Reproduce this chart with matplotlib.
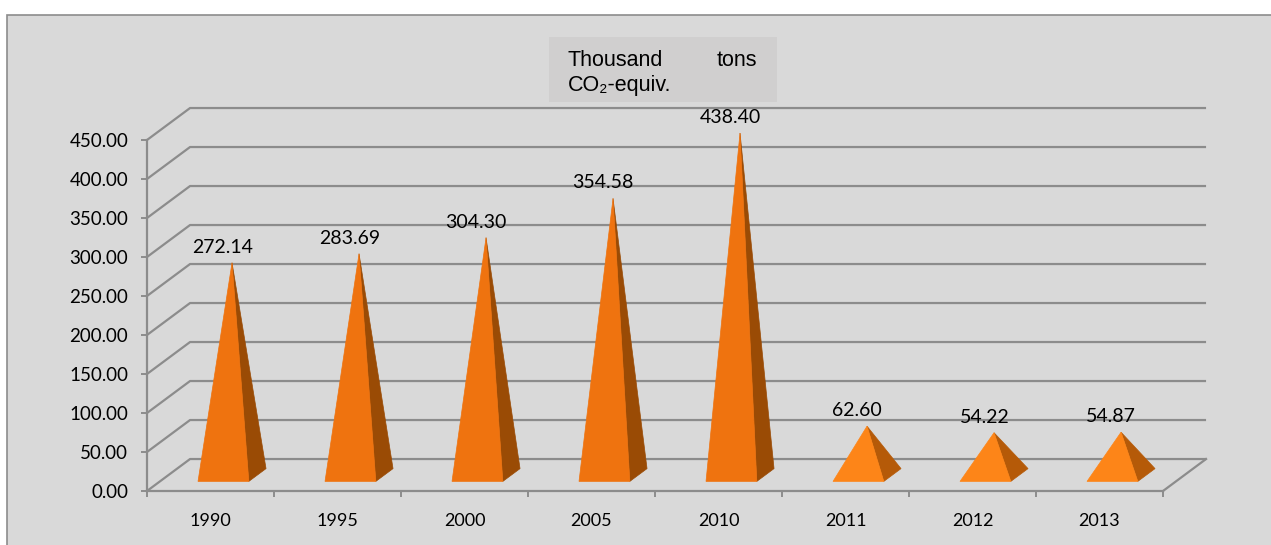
import matplotlib.pyplot as plt
from matplotlib.patches import Polygon, Rectangle

# Emissions, thousand tons CO2-equivalent
years = ["1990", "1995", "2000", "2005", "2010", "2011", "2012", "2013"]
emissions = [272.14, 283.69, 304.30, 354.58, 438.40, 62.60, 54.22, 54.87]
y_ticks = [0, 50, 100, 150, 200, 250, 300, 350, 400, 450]

W, H = 1271, 545
GRID = "#8c8c8c"
BG = "#d9d9d9"

# oblique depth vector for the fake 3D box (category units, value units)
DEPTH_X = 0.339
DEPTH_Y = 41.0


def proj(x, y, d):
    return (x + d * DEPTH_X, y + d * DEPTH_Y)


plt.rcParams["font.family"] = ["Lato", "DejaVu Sans"]

fig = plt.figure(figsize=(W / 100, H / 100), dpi=100)
fig.patch.set_facecolor("white")
fig.add_artist(Rectangle((7 / W, -0.01), 1.0, 1 - 15 / H + 0.01,
                         transform=fig.transFigure, facecolor=BG,
                         edgecolor=GRID, lw=1.2, zorder=0))

ax = fig.add_axes([147 / W, 54 / H, 1016 / W, 351 / H])
ax.set_xlim(0, len(years))
ax.set_ylim(0, 450)
ax.patch.set_visible(False)
for s in ("top", "right"):
    ax.spines[s].set_visible(False)
for s in ("left", "bottom"):
    ax.spines[s].set_color(GRID)
    ax.spines[s].set_linewidth(1.6)

ax.set_yticks(y_ticks)
ax.set_yticklabels([f"{v:.2f}" for v in y_ticks])
ax.set_xticks(range(len(years) + 1))
ax.set_xticklabels([])
ax.set_xticks([i + 0.5 for i in range(len(years))], minor=True)
ax.set_xticklabels(years, minor=True)
ax.tick_params(axis="both", which="major", length=4.5, width=1.4, color=GRID,
               labelsize=13.5, labelcolor="black")
ax.tick_params(axis="y", pad=9)
ax.tick_params(axis="x", which="minor", length=0, pad=16, labelsize=13)

# back wall gridlines + side diagonals
for v in y_ticks:
    xb, yb = proj(0, v, 1)
    xe, _ = proj(len(years), v, 1)
    ax.plot([0, xb, xe], [v, yb, yb], color=GRID, lw=1.6, clip_on=False,
            zorder=1, solid_capstyle="butt")
fx, fy = proj(len(years), 0, 1)
ax.plot([len(years), fx], [0, fy], color=GRID, lw=1.6, clip_on=False, zorder=1)

# pyramids: front and right faces
half = 0.2
for i, v in enumerate(emissions):
    c = i + 0.5
    apex = proj(c, v, 0.5)
    fl = proj(c - half, 0, 0.3)
    fr = proj(c + half, 0, 0.3)
    br = proj(c + half, 0, 0.7)
    if v > 100:
        front, side = "#ef730f", "#9a4b05"
    else:
        front, side = "#fd8518", "#b55a08"
    ax.add_patch(Polygon([fr, br, apex], closed=True, facecolor=side,
                         edgecolor=side, lw=0.5, clip_on=False, zorder=3))
    ax.add_patch(Polygon([fl, fr, apex], closed=True, facecolor=front,
                         edgecolor=front, lw=0.5, clip_on=False, zorder=4))
    ax.annotate(f"{v:.2f}", xy=apex, xytext=(-7, 5), textcoords="offset points",
                ha="center", va="bottom", fontsize=14, annotation_clip=False,
                zorder=5)

# unit box
fig.add_artist(Rectangle((549 / W, 1 - 102 / H), 228 / W, 65 / H,
                         transform=fig.transFigure, facecolor="#d0cfcf",
                         edgecolor="none", zorder=1))
unit_font = ["Liberation Sans", "DejaVu Sans"]
fig.text(568 / W, 1 - 61 / H, "Thousand", ha="left", va="center",
         fontsize=15.5, family=unit_font)
fig.text(757 / W, 1 - 61 / H, "tons", ha="right", va="center",
         fontsize=15.5, family=unit_font)
fig.text(568 / W, 1 - 85 / H, "CO\u2082-equiv.", ha="left", va="center",
         fontsize=15.5, family=unit_font)

fig.savefig("out.png", dpi=100)
